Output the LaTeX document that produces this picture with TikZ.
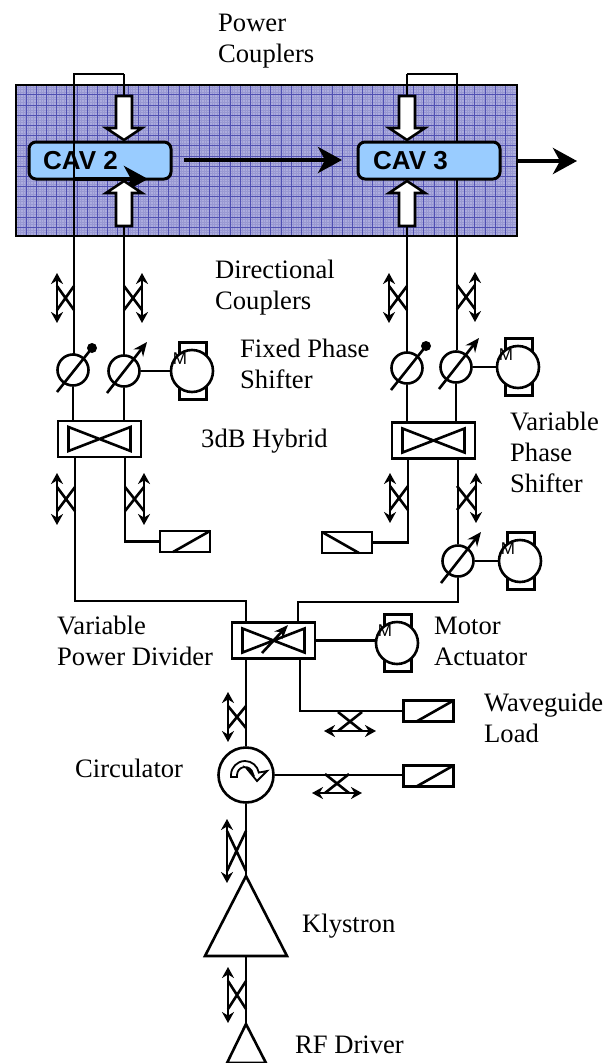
\documentclass[tikz,border=0pt]{standalone}
\usepackage{fontspec}
\setmainfont{Liberation Serif}
\setsansfont{Liberation Sans}
\usetikzlibrary{arrows.meta, positioning, shapes.geometric, calc}

\begin{document}
\begin{tikzpicture}[
      x=1pt, y=-1pt,
      every node/.style={inner sep=0pt},
      wg/.style={line width=2.6pt, line join=miter},
      lbl/.style={font=\fontsize{26.6}{31}\selectfont, align=left, anchor=west},
      cavity/.style={draw, line width=3pt, rounded corners=7pt, fill=cavblue, minimum width=142pt, minimum height=37pt},
      cavtext/.style={font=\fontsize{26}{30}\sffamily\bfseries\selectfont, anchor=west},
      beam/.style={line width=4.5pt, -{Stealth[length=24pt, width=26pt, inset=7pt]}},
      feed/.style={draw, line width=2.6pt, fill=white},
      phase/.style={circle, draw, line width=2.6pt, fill=white, minimum size=31pt},
      hybrid/.style={rectangle, draw, line width=2.6pt, fill=white, minimum width=83pt, minimum height=36pt},
      load/.style={rectangle, draw, line width=2.6pt, fill=white, minimum width=50pt, minimum height=21pt},
      motorbox/.style={rectangle, draw, line width=2.6pt, fill=white, minimum width=27pt, minimum height=57pt},
      motorcirc/.style={circle, draw, line width=2.6pt, fill=white, minimum size=42pt},
      motorm/.style={font=\fontsize{17}{17}\sffamily\selectfont},
      amp/.style={draw, line width=2.6pt, fill=white},
      pics/dircoupler/.style n args={3}{code={
        \draw[line width=2.6pt, {Stealth[length=11pt, width=12pt]}-{Stealth[length=11pt, width=12pt]}] (#1,-#2) -- (#1,#2);
        \draw[wg] (0,-#3) -- (#1,#3) (0,#3) -- (#1,-#3);
      }},
      pics/bowtie/.style={code={
        \draw[wg] (-31,-12) -- (31,12) -- (31,-12) -- (-31,12) -- cycle;
      }},
      pics/fixedbar/.style={code={
        \draw[wg] (-16,22) -- (19,-22);
        \fill (19,-22) circle (5);
      }},
      pics/varbar/.style={code={
        \draw[line width=2.6pt, -{Stealth[length=14pt, width=12pt]}] (-17,22) -- (23,-29);
      }},
      pics/loadbar/.style={code={
        \draw[wg] (-12,10.5) -- (25,-10.5);
      }}
    ]
      \definecolor{cavblue}{HTML}{99CCFF}
      \definecolor{meshfill}{HTML}{ACACDE}
      \definecolor{meshfine}{HTML}{9898D2}
      \definecolor{meshline}{HTML}{5050B2}
      \useasboundingbox (0,0) rectangle (613,1063);

      % cryomodule box
      \fill[meshfill] (16,85) rectangle (517,236);
      \foreach \x in {18,20.55,...,515} \draw[meshfine, line width=0.6pt] (\x,85) -- (\x,236);
      \foreach \y in {87,89.55,...,235} \draw[meshfine, line width=0.6pt] (16,\y) -- (517,\y);
      \foreach \x in {26,36.2,...,515} \draw[meshline, line width=0.7pt] (\x,85) -- (\x,236);
      \foreach \y in {94.8,105,...,235} \draw[meshline, line width=0.7pt] (16,\y) -- (517,\y);
      \draw[line width=2.6pt] (16,85) rectangle (517,236);

      \coordinate (tla) at (74,74);
      \coordinate (tlb) at (124,74);
      \coordinate (tra) at (407,74);
      \coordinate (trb) at (457,74);

      % right guide goes behind the cavity
      \draw[wg] (tra) -- (trb) -- (457,350);
      \node[cavity] (cavb) at (429,160.5) {};
      \node[cavtext] at (373,161) {CAV 3};
      \node[cavity] (cava) at (100,160.5) {};
      \node[cavtext] at (43,161) {CAV 2};

      % left guide runs over it
      \draw[wg] (tlb) -- (tla) -- (74,355);
      \draw[wg] (tlb) -- (124,96);
      \draw[wg] (tra) -- (407,96);
      \draw[wg] (124,226) -- (124,356);
      \draw[wg] (407,226) -- (407,354);

      \draw[beam] (74,179) -- (148,179);
      \draw[beam] (184,160) -- (342,160);
      \draw[beam] (517,161) -- (577,161);

      % coupler arrows, white
      \foreach \x in {124,407} {
        \draw[feed] (\x-8,96) -- (\x+8,96) -- (\x+8,128) -- (\x+18,128) -- (\x,140) -- (\x-18,128) -- (\x-8,128) -- cycle;
        \draw[feed] (\x-8,226) -- (\x+8,226) -- (\x+8,193) -- (\x+18,193) -- (\x,181) -- (\x-18,193) -- (\x-8,193) -- cycle;
      }

      \node[phase] (psa) at (73,370) {};
      \node[phase] (psb) at (124,371) {};
      \node[phase] (psc) at (407,368) {};
      \node[phase] (psd) at (456,367) {};
      \node[phase] (pse) at (458,561) {};

      \node[hybrid] (hya) at (99.5,439) {};
      \node[hybrid] (hyb) at (433.5,440.5) {};
      \node[hybrid] (vpd) at (273.5,640.5) {};
      \node[load] (loa) at (185,541.5) {};
      \node[load] (lob) at (347,542.5) {};
      \node[load] (loc) at (428.5,711) {};
      \node[load] (lod) at (428.5,776) {};
      \node[circle, draw, line width=2.6pt, minimum size=55pt] (circ) at (246,775) {};

      \foreach \nm/\x/\y in {mota/192/371, motb/518/367, motc/520/561, motd/397/643} {
        \node[motorbox] at (\x+1,\y) {};
        \node[motorcirc] (\nm) at (\x,\y) {};
        \node[motorm] at (\x-12,\y-12) {M};
      }

      \pic at (psa) {fixedbar};
      \pic at (psb) {varbar};
      \pic at (psc) {fixedbar};
      \pic at (psd) {varbar};
      \pic at (pse) {varbar};
      \pic at (hya) {bowtie};
      \pic at (hyb) {bowtie};
      \pic at (vpd) {bowtie};
      \draw[line width=2.6pt, -{Stealth[length=14pt, width=11pt]}] (262,653) -- (288,625);
      \pic at (loa) {loadbar};
      \pic[xscale=-1] at (lob) {loadbar};
      \pic at (loc) {loadbar};
      \pic at (lod) {loadbar};

      \foreach \x/\y/\ox/\ah/\xh/\r in {
          74/298/-17/25/12/0, 124/298/18/25/12/0, 407/298/-18/25/12/0, 457/297/18/25/12/0,
          75/499/-18/26/12/0, 125/499/19/26/12/0, 408/498/-18/25/12/0, 457/498/19/25/12/0,
          246/717/-18/25/11/0, 246/851/-19/32/20/0, 246/995/-18/28/14/0,
          350/712/19/26/12/-90, 337/774/19/25/12/-90} {
        \pic[rotate=\r] at (\x,\y) {dircoupler={\ox}{\ah}{\xh}};
      }

      % guides
      \draw[wg] (psa) -- (hya.north -| psa);
      \draw[wg] (psb) -- (hya.north -| psb);
      \draw[wg] (psc) -- (hyb.north -| psc);
      \draw[wg] (psd) -- (hyb.north -| psd);
      \draw[wg] (psb) -- (mota);
      \draw[wg] (psd) -- (motb);
      \draw[wg] (pse) -- (motc);
      \draw[wg] (vpd.east) -- (motd.west |- vpd.east);
      \draw[wg] (75,457) -- (75,601) -- (246,601) -- (246,622);
      \draw[wg] (125,457) |- (loa.west);
      \draw[wg] (408,459) |- (lob.east);
      \draw[wg] (458,459) -- (pse);
      \draw[wg] (pse) -- (458,602) -- (298,602) -- (298,622);
      \draw[wg] (300,659) |- (loc.west);
      \draw[wg] (246,659) -- (circ);
      \draw[wg] (circ.east) -- (lod.west |- circ.east);

      \path[amp] (246,876) coordinate (klytop) -- (287,956) -- (205,956) -- cycle;
      \node[minimum size=2pt] (kly) at (246,956) {};
      \node[minimum size=2pt] (drv) at (246,1024) {};
      \draw[wg] (circ) -- (klytop);
      \draw[wg] (kly) -- (drv);
      \path[amp] (drv.center) -- (266,1063) -- (227,1063) -- cycle;

      % circulator mark
      \draw[line width=1.8pt, line join=miter, fill=white] (231,777) -- (231,775) arc[start angle=180, end angle=350, radius=14]
        -- (267,771) -- (257,781) -- (248,770) -- (252.9,773.6) arc[start angle=350, end angle=180, radius=8] -- (237,777) -- cycle;

      \node[lbl, anchor=north west] at (218,13.5) {Power\\Couplers};
      \node[lbl, anchor=north west] at (215,260) {Directional\\Couplers};
      \node[lbl, anchor=north west] at (240,339) {Fixed Phase\\Shifter};
      \node[lbl] at (201,441) {3dB Hybrid};
      \node[lbl, anchor=north west] at (510,412) {Variable\\Phase\\Shifter};
      \node[lbl, anchor=north west] at (57,616) {Variable\\Power Divider};
      \node[lbl, anchor=north west] at (434,617) {Motor\\Actuator};
      \node[lbl, anchor=north west] at (484,693) {Waveguide\\Load};
      \node[lbl] at (75,768) {Circulator};
      \node[lbl] at (302,926) {Klystron};
      \node[lbl] at (295,1045) {RF Driver};
    \end{tikzpicture}
\end{document}
